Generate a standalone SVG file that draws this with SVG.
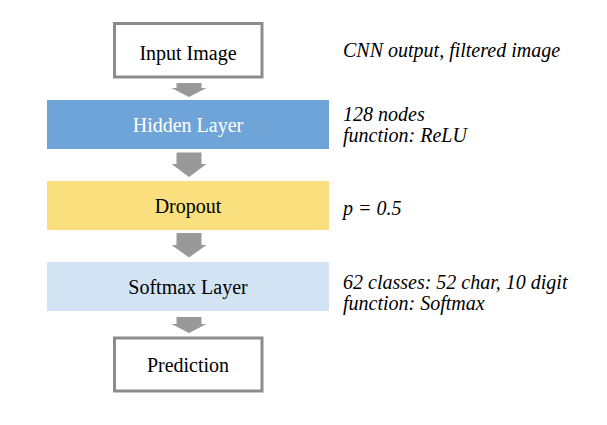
<svg xmlns="http://www.w3.org/2000/svg" width="607" height="425" viewBox="0 0 607 425">
<style>
.lbl{font-family:"Liberation Serif","Times New Roman",serif;font-size:20px;text-anchor:middle;fill:#000}
.note{font-family:"Liberation Serif","Times New Roman",serif;font-size:20px;font-style:italic;fill:#000}
.box{fill:#fff;stroke:#8c8c8c;stroke-width:3}
.arr{fill:#999999}
</style>
<rect width="607" height="425" fill="#fff"/>
<g id="connectors">
<polygon class="arr" points="176.5,83 201.5,83 201.5,88 206.5,88 189,97 171.5,88 176.5,88"/>
<polygon class="arr" points="176.5,152.5 201.5,152.5 201.5,164 206.5,164 189,177 171.5,164 176.5,164"/>
<polygon class="arr" points="176.5,233 201.5,233 201.5,245 206.5,245 189,257.5 171.5,245 176.5,245"/>
<polygon class="arr" points="176.5,317 201.5,317 201.5,324 206.5,324 189,333 171.5,324 176.5,324"/>
</g>
<g id="input">
<rect class="box" x="114.5" y="23.5" width="147.5" height="53.5"/>
<text class="lbl" x="188" y="59.5">Input Image</text>
</g>
<g id="hidden">
<rect x="47" y="100" width="282" height="49" fill="#6fa4d8"/>
<text class="lbl" x="188" y="131.5" style="fill:#fff">Hidden Layer</text>
</g>
<g id="dropout">
<rect x="47" y="181" width="282" height="49" fill="#f9df7d"/>
<text class="lbl" x="188" y="212.5">Dropout</text>
</g>
<g id="softmax">
<rect x="47" y="262" width="282" height="49" fill="#d2e4f4"/>
<text class="lbl" x="188" y="293.5">Softmax Layer</text>
</g>
<g id="prediction">
<rect class="box" x="114.5" y="338" width="147.5" height="53"/>
<text class="lbl" x="188" y="371.5">Prediction</text>
</g>
<g id="notes">
<text class="note" x="343" y="56.5">CNN output, filtered image</text>
<text class="note" x="343" y="120.5">128 nodes</text>
<text class="note" x="343" y="141.5">function: ReLU</text>
<text class="note" x="343" y="215">p = 0.5</text>
<text class="note" x="343" y="288.5">62 classes: 52 char, 10 digit</text>
<text class="note" x="343" y="309.5">function: Softmax</text>
</g>
</svg>
